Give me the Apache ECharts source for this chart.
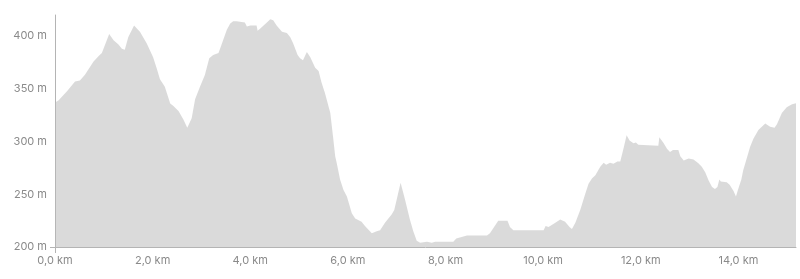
<!DOCTYPE html>
<html>
<head>
<meta charset="utf-8">
<script src="https://cdn.jsdelivr.net/npm/echarts@6/dist/echarts.min.js"></script>
<style>
html,body{margin:0;padding:0;background:#fff;}
#chart{width:800px;height:279px;}
</style>
</head>
<body>
<div id="chart"></div>
<script>
// Distance along the route (km)
const distanceKm = [
  0.00, 0.07, 0.25, 0.41, 0.51, 0.61, 0.79, 0.89, 0.96, 1.11,
  1.20, 1.30, 1.37, 1.43, 1.50, 1.62, 1.74, 1.88, 2.01, 2.08,
  2.15, 2.25, 2.36, 2.42, 2.53, 2.63, 2.71, 2.80, 2.87, 2.97,
  3.07, 3.16, 3.24, 3.35, 3.42, 3.52, 3.59, 3.65, 3.72, 3.89,
  3.93, 4.00, 4.13, 4.15, 4.20, 4.34, 4.41, 4.47, 4.54, 4.65,
  4.75, 4.82, 4.88, 4.97, 5.02, 5.08, 5.16, 5.23, 5.33, 5.40,
  5.46, 5.53, 5.64, 5.70, 5.74, 5.77, 5.84, 5.91, 5.98, 6.08,
  6.15, 6.28, 6.35, 6.49, 6.52, 6.59, 6.66, 6.76, 6.90, 6.95,
  7.08, 7.17, 7.27, 7.34, 7.41, 7.48, 7.62, 7.72, 7.79, 8.16,
  8.22, 8.44, 8.85, 8.91, 9.08, 9.27, 9.32, 9.39, 10.01, 10.05,
  10.11, 10.25, 10.35, 10.45, 10.54, 10.59, 10.66, 10.76, 10.86, 10.93,
  11.00, 11.07, 11.17, 11.24, 11.29, 11.37, 11.44, 11.52, 11.58, 11.65,
  11.71, 11.77, 11.85, 11.90, 11.95, 12.36, 12.38, 12.47, 12.54, 12.60,
  12.66, 12.77, 12.81, 12.88, 12.98, 13.08, 13.18, 13.25, 13.32, 13.39,
  13.46, 13.52, 13.57, 13.61, 13.64, 13.76, 13.82, 13.90, 13.95, 13.99,
  14.06, 14.10, 14.17, 14.24, 14.31, 14.41, 14.55, 14.65, 14.74, 14.79,
  14.89, 14.99, 15.10, 15.18
];
// Elevation (m)
const elevationM = [
  337, 339, 348, 357, 358, 363, 376, 381, 384, 402,
  396, 392, 388, 387, 399, 410, 404, 393, 380, 370,
  359, 352, 336, 334, 329, 321, 313, 322, 340, 352,
  363, 379, 382, 384, 393, 406, 412, 414, 414, 413,
  409, 410, 410, 405, 407, 413, 416, 415, 410, 404,
  403, 399, 393, 382, 379, 377, 385, 380, 370, 367,
  356, 346, 327, 303, 286, 280, 264, 254, 248, 232,
  227, 224, 220, 213, 213, 215, 216, 223, 231, 235,
  261, 245, 226, 215, 206, 204, 205, 204, 205, 205,
  208, 211, 211, 213, 225, 225, 219, 216, 216, 220,
  219, 223, 226, 224, 219, 217, 223, 235, 250, 260,
  265, 268, 276, 280, 278, 280, 279, 281, 281, 294,
  306, 301, 298.5, 299, 297, 296, 304, 298.5, 293, 290,
  292, 292, 286, 282, 284, 283, 279.5, 276, 271, 263,
  257, 255, 257, 264, 262, 261.5, 259, 253, 248, 254,
  264, 273, 284, 295, 303, 311, 317, 314, 313, 316.5,
  327, 332.6, 335.4, 336.4
];
// Axis ranges / ticks
const xMin = 0, xMax = 15.18, xStep = 2;
const yMin = 200, yMax = 420, yStep = 50;

const seriesData = distanceKm.map((d, i) => [d, elevationM[i]]);

const chart = echarts.init(document.getElementById('chart'), null, {renderer: 'canvas'});
const labelFont = {color: '#8a8a8a', fontSize: 11, fontFamily: 'Inter, "Noto Sans", sans-serif'};
chart.setOption({
  animation: false,
  grid: {left: 55, right: 4, top: 15, bottom: 32, containLabel: false},
  xAxis: {
    type: 'value', min: xMin, max: xMax, interval: xStep,
    axisLine: {show: true, lineStyle: {color: '#b4b4b4', width: 1}},
    axisTick: {show: true, length: 6, lineStyle: {color: '#b4b4b4'}, customValues: [xMin, xMax]},
    axisLabel: Object.assign({margin: 8, showMaxLabel: false,
      formatter: v => v.toFixed(1).replace('.', ',') + ' km'}, labelFont),
    splitLine: {show: true, showMinLine: false, showMaxLine: false, lineStyle: {color: '#e8e8e8', width: 1}}
  },
  yAxis: {
    type: 'value', min: yMin, max: yMax, interval: yStep,
    axisLine: {show: true, lineStyle: {color: '#b4b4b4', width: 1}},
    axisTick: {show: true, length: 5, lineStyle: {color: '#b4b4b4'}, customValues: [yMin, yMax]},
    axisLabel: Object.assign({margin: 8, showMaxLabel: false,
      formatter: v => v + ' m'}, labelFont),
    splitLine: {show: true, showMinLine: false, showMaxLine: false, lineStyle: {color: '#e8e8e8', width: 1}}
  },
  series: [{
    type: 'line',
    data: seriesData,
    showSymbol: false,
    smooth: false,
    lineStyle: {width: 0, opacity: 0},
    areaStyle: {color: 'rgba(184,184,184,0.52)', opacity: 1, origin: 'start'},
    z: 1
  }]
});
</script>
</body>
</html>
